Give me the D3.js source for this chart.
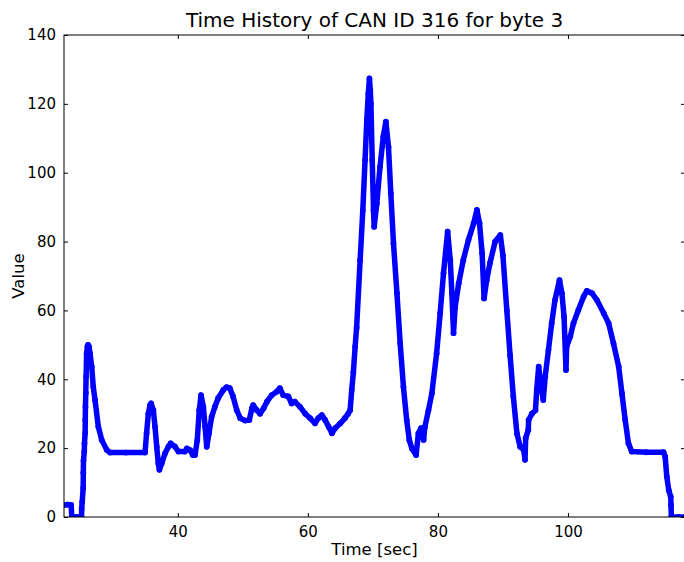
<!DOCTYPE html>
<html>
<head>
<meta charset="utf-8">
<script src="https://cdn.jsdelivr.net/npm/d3@7"></script>
<style>
  html, body { margin: 0; padding: 0; background: #fff; }
  svg { display: block; font-family: "DejaVu Sans", sans-serif; }
</style>
</head>
<body>
<svg id="chart" width="684" height="562"></svg>
<script>
// ---- data ----
const titleText = "Time History of CAN ID 316 for byte 3";
const xLabelText = "Time [sec]";
const yLabelText = "Value";
const xTicks = [40, 60, 80, 100];
const yTicks = [0, 20, 40, 60, 80, 100, 120, 140];
const xDomain = [22.5, 118.0];
const yDomain = [0, 140];

const times = [
  22.5, 23.0, 23.6, 23.7, 24.5, 25.2, 25.22, 25.3, 25.45, 25.47, 25.5, 25.62, 25.65, 25.75, 25.77, 25.8, 25.85, 25.9, 25.98, 26.1,
  26.2, 26.35, 26.5, 26.76, 27.0, 27.27, 27.78, 28.3, 29.07, 29.58, 32.0, 34.96, 35.2, 35.47, 35.73, 35.9, 36.24, 36.5, 36.76, 37.0, 37.17, 37.53,
  38.04, 38.55, 38.9, 39.58, 40.1, 41.1, 41.4, 41.9, 42.3, 42.65, 43.0, 43.3, 43.58, 43.93, 44.2, 44.45, 44.8, 45.2, 45.7, 46.2,
  47.0, 47.5, 48.0, 48.5, 49.07, 49.6, 50.35, 51.0, 51.4, 51.6, 52.15, 52.65, 53.2, 53.7, 54.45, 55.2, 55.7, 56.2, 57.0, 57.5,
  58.0, 58.8, 59.6, 60.35, 61.1, 61.6, 62.15, 62.65, 63.2, 63.7, 64.2, 65.0, 65.7, 66.2, 66.5, 66.75, 67.0, 67.27, 67.5, 68.04,
  68.45, 68.8, 69.07, 69.3, 69.47, 69.6, 69.7, 69.9, 70.1, 70.2, 70.6, 71.1, 71.6, 72.0, 72.4, 72.76, 73.17, 73.7, 74.2, 74.7,
  75.2, 75.6, 76.0, 76.65, 77.0, 77.4, 77.8, 78.0, 78.55, 79.07, 79.8, 80.35, 80.86, 81.5, 81.9, 82.15, 82.4, 82.65, 83.2, 83.9,
  84.7, 85.5, 86.0, 86.4, 86.8, 87.1, 87.5, 88.0, 88.8, 89.6, 90.0, 90.6, 91.1, 91.6, 92.15, 92.65, 93.2, 93.4, 93.5, 93.9,
  93.95, 94.45, 95.0, 95.2, 95.5, 95.8, 96.2, 96.5, 97.0, 97.5, 98.0, 98.7, 99.07, 99.4, 99.7, 99.8, 100.35, 100.85, 101.6, 102.4,
  102.9, 103.7, 104.45, 105.5, 106.25, 107.0, 107.8, 108.3, 108.8, 109.3, 109.8, 112.0, 114.7, 114.95, 115.2, 115.5, 115.8, 115.85, 115.9, 117.0,
  118.0
];
const values = [
  3.5, 3.6, 3.5, 0, 0, 0, 2.5, 4.4, 8.5, 12.9, 16.4, 19, 21.4, 24.4, 28.2, 32, 36, 40.8, 47.5, 49.5,
  50, 49.5, 47.5, 43.7, 37.8, 34, 26.2, 22.4, 19.5, 18.7, 18.7, 18.7, 24.3, 30, 32.5, 33, 31, 26.2, 20.4, 15.6, 13.7, 15.6,
  18.5, 20.4, 21.4, 20.4, 19, 19, 19.9, 19.4, 18, 18, 22.4, 31, 35.4, 32, 26.2, 20.4, 24.3, 29.1, 32, 34.5,
  36.9, 37.7, 37.4, 35, 31, 28.7, 28, 28.2, 31.6, 32.5, 31, 30, 31.6, 33.5, 35.4, 36.4, 37.4, 35.4, 35, 33,
  33.5, 32, 30, 28.7, 27.2, 28.7, 29.6, 28.2, 26.2, 24.3, 25.8, 27.2, 28.7, 30, 31, 36.9, 42, 49.5, 55, 74.6,
  89, 103.7, 115.3, 123, 127.4, 124, 120, 103.7, 89, 84.3, 91, 101.7, 110.5, 114.8, 107.5, 94, 79.5, 65, 50.4, 37.8,
  28.2, 22.4, 19.9, 18, 24.3, 25.8, 22.4, 26.2, 31, 35.9, 47.5, 59.2, 70.8, 82.9, 74.6, 65, 53.4, 61, 67.9, 74.6,
  80.5, 85.3, 89.2, 85.3, 76.6, 63.5, 68.8, 73.7, 80, 81.9, 76, 60, 47, 35, 24.3, 20.4, 19.5, 16.6, 22.9, 25.3,
  28.2, 30, 31, 36.9, 43.7, 38.8, 34, 40.8, 48.5, 56.3, 63, 68.8, 65, 58.2, 42.7, 49.5, 52.4, 56.3, 60.1, 64,
  65.7, 65, 63, 59.2, 56.3, 50.4, 43.7, 35.9, 28.2, 21.4, 19, 18.8, 18.8, 17.5, 11.7, 7.8, 5.9, 3.5, 0, 0,
  0
];

// ---- layout ----
const W = 684, H = 562;
const plot = { left: 64, top: 35, right: 685, bottom: 517 };
const svg = d3.select("#chart");

const x = d3.scaleLinear().domain(xDomain).range([plot.left, plot.right]);
const y = d3.scaleLinear().domain(yDomain).range([plot.bottom, plot.top]);

const pts = times.map((t, i) => ({ t, v: values[i] }));

svg.append("defs").append("clipPath").attr("id", "clip")
  .append("rect")
  .attr("x", plot.left).attr("y", plot.top)
  .attr("width", plot.right - plot.left).attr("height", plot.bottom - plot.top);

const g = svg.append("g").attr("clip-path", "url(#clip)");

const line = d3.line().x(d => x(d.t)).y(d => y(d.v));
g.append("path")
  .datum(pts)
  .attr("d", line)
  .attr("fill", "none")
  .attr("stroke", "#0000ff")
  .attr("stroke-width", 5.5)
  .attr("stroke-linejoin", "round")
  .attr("stroke-linecap", "round");

g.selectAll("circle.pt")
  .data(pts)
  .join("circle")
  .attr("class", "pt")
  .attr("cx", d => x(d.t))
  .attr("cy", d => y(d.v))
  .attr("r", 2.9)
  .attr("fill", "#0000ff");

// ---- axes (matplotlib classic: ticks inward on all four sides) ----
const tickLen = 4;
const axisBottom = d3.axisBottom(x).tickValues(xTicks).tickSizeInner(-tickLen).tickSizeOuter(0).tickPadding(9).tickFormat(d3.format("d"));
const axisTop = d3.axisTop(x).tickValues(xTicks).tickSizeInner(-tickLen).tickSizeOuter(0).tickFormat("");
const axisLeft = d3.axisLeft(y).tickValues(yTicks).tickSizeInner(-tickLen).tickSizeOuter(0).tickPadding(8).tickFormat(d3.format("d"));
const axisRight = d3.axisRight(y).tickValues(yTicks).tickSizeInner(-tickLen).tickSizeOuter(0).tickFormat("");

function style(sel) {
  sel.select(".domain").remove();
  sel.selectAll(".tick line").attr("stroke", "#000").attr("stroke-width", 1);
  sel.selectAll(".tick text").attr("fill", "#000").attr("font-size", 15).attr("font-family", "DejaVu Sans, sans-serif");
}

svg.append("g").attr("transform", `translate(0,${plot.bottom})`).call(axisBottom).call(style);
svg.append("g").attr("transform", `translate(0,${plot.top})`).call(axisTop).call(style);
svg.append("g").attr("transform", `translate(${plot.left},0)`).call(axisLeft).call(style);
svg.append("g").attr("transform", `translate(${plot.right},0)`).call(axisRight).call(style);

// frame
svg.append("rect")
  .attr("x", plot.left).attr("y", plot.top)
  .attr("width", plot.right - plot.left).attr("height", plot.bottom - plot.top)
  .attr("fill", "none").attr("stroke", "#000").attr("stroke-width", 1);

// title and labels
svg.append("text")
  .attr("x", (plot.left + plot.right) / 2).attr("y", 27)
  .attr("text-anchor", "middle").attr("font-size", 20).attr("fill", "#000")
  .text(titleText);

svg.append("text")
  .attr("x", (plot.left + plot.right) / 2).attr("y", 555)
  .attr("text-anchor", "middle").attr("font-size", 16.5).attr("fill", "#000")
  .text(xLabelText);

svg.append("text")
  .attr("transform", `translate(24,${(plot.top + plot.bottom) / 2}) rotate(-90)`)
  .attr("text-anchor", "middle").attr("font-size", 16.5).attr("fill", "#000")
  .text(yLabelText);
</script>
</body>
</html>
